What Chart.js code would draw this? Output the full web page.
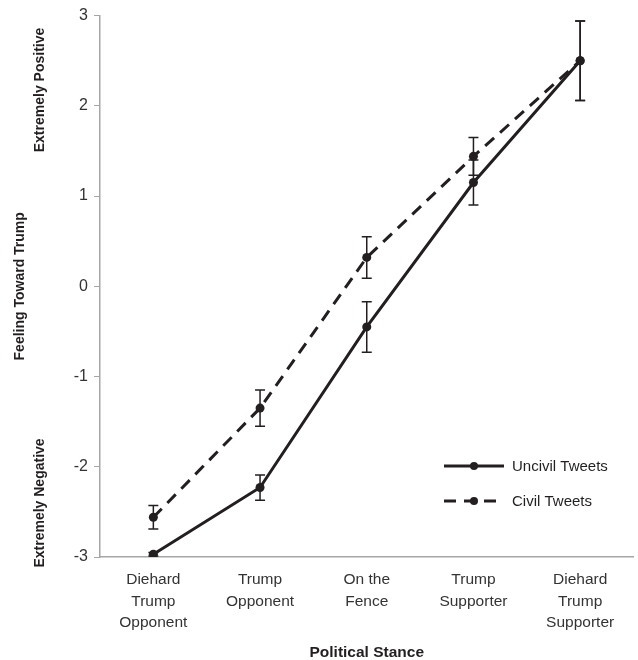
<!DOCTYPE html>
<html>
<head>
<title>Feeling Toward Trump</title>
<script src="https://cdn.jsdelivr.net/npm/chart.js@4.4.0/dist/chart.umd.min.js"></script>
<style>
  body { margin: 0; background: #fff; }
  .wrap { width: 638px; height: 660px; }
</style>
</head>
<body>
<div class="wrap"><canvas id="myChart" width="638" height="660"></canvas></div>
<script>
    // categories on the x axis (multi-line labels)
    var stances = [
        ['Diehard', 'Trump', 'Opponent'],
        ['Trump', 'Opponent'],
        ['On the', 'Fence'],
        ['Trump', 'Supporter'],
        ['Diehard', 'Trump', 'Supporter']
    ];
    var uncivil = [-2.97, -2.23, -0.45, 1.15, 2.50];
    var uncivilErr = [0.02, 0.14, 0.28, 0.25, 0.44];
    var civil = [-2.56, -1.35, 0.32, 1.44, 2.50];
    var civilErr = [0.13, 0.20, 0.23, 0.21, 0.44];
    var yTicks = [-3, -2, -1, 0, 1, 2, 3];

    var ink = '#231f20';
    var axisGray = '#a6a6a6';
    var font = '"Liberation Sans", Arial, sans-serif';

    // error bars for each dataset
    var errorBars = {
        id: 'errorBars',
        afterDatasetsDraw: function(chart) {
            var ctx = chart.ctx;
            var y = chart.scales.y;
            ctx.save();
            ctx.strokeStyle = ink;
            ctx.lineWidth = 1.5;
            chart.data.datasets.forEach(function(ds, di) {
                var meta = chart.getDatasetMeta(di);
                meta.data.forEach(function(pt, i) {
                    var v = ds.data[i], e = ds.errors[i];
                    var top = y.getPixelForValue(v + e);
                    var bot = y.getPixelForValue(v - e);
                    ctx.beginPath();
                    ctx.moveTo(pt.x, top); ctx.lineTo(pt.x, bot);
                    ctx.moveTo(pt.x - 5, top); ctx.lineTo(pt.x + 5, top);
                    ctx.moveTo(pt.x - 5, bot); ctx.lineTo(pt.x + 5, bot);
                    ctx.stroke();
                });
            });
            ctx.restore();
        }
    };

    // rotated side titles and the in-plot legend
    var sideText = {
        id: 'sideText',
        afterDraw: function(chart) {
            var ctx = chart.ctx;
            var area = chart.chartArea;
            ctx.save();
            ctx.fillStyle = ink;
            ctx.font = 'bold 14px ' + font;
            ctx.textAlign = 'center';
            ctx.textBaseline = 'middle';
            function vtext(t, x, y) {
                ctx.save();
                ctx.translate(x, y);
                ctx.rotate(-Math.PI / 2);
                ctx.fillText(t, 0, 0);
                ctx.restore();
            }
            vtext('Feeling Toward Trump', 20, (area.top + area.bottom) / 2);
            vtext('Extremely Positive', 40, 90);
            vtext('Extremely Negative', 40, 503);

            // legend
            ctx.font = '15px ' + font;
            ctx.textAlign = 'left';
            var lx = 444, lw = 60, rows = [466, 501];
            chart.data.datasets.forEach(function(ds, i) {
                var ly = rows[i];
                ctx.strokeStyle = ink;
                ctx.lineWidth = 3;
                ctx.setLineDash(ds.borderDash || []);
                ctx.beginPath();
                ctx.moveTo(lx, ly); ctx.lineTo(lx + lw, ly);
                ctx.stroke();
                ctx.setLineDash([]);
                ctx.beginPath();
                ctx.arc(lx + lw / 2, ly, 4, 0, Math.PI * 2);
                ctx.fill();
                ctx.fillText(ds.label, lx + lw + 8, ly + 1);
            });
            ctx.restore();
        }
    };

    var ctx = document.getElementById('myChart').getContext('2d');
    var myLineChart = new Chart(ctx, {
        type: 'line',
        data: {
            labels: stances,
            datasets: [
                {
                    label: 'Uncivil Tweets',
                    data: uncivil,
                    errors: uncivilErr,
                    borderColor: ink,
                    backgroundColor: ink,
                    borderWidth: 3,
                    pointRadius: 4.5,
                    pointBackgroundColor: ink,
                    pointBorderWidth: 0,
                    tension: 0
                },
                {
                    label: 'Civil Tweets',
                    data: civil,
                    errors: civilErr,
                    borderColor: ink,
                    backgroundColor: ink,
                    borderWidth: 3,
                    borderDash: [12, 8],
                    pointRadius: 4.5,
                    pointBackgroundColor: ink,
                    pointBorderWidth: 0,
                    tension: 0
                }
            ]
        },
        options: {
            responsive: false,
            animation: false,
            layout: { padding: { top: 8, right: 0, left: 0, bottom: 0 } },
            plugins: {
                legend: { display: false },
                tooltip: { enabled: false }
            },
            scales: {
                x: {
                    offset: true,
                    afterFit: function(scale) { scale.height = 103; },
                    grid: { display: false, drawTicks: false },
                    border: { display: true, color: axisGray, width: 1.5 },
                    ticks: {
                        color: '#333',
                        font: { family: font, size: 15.5, lineHeight: 1.39 },
                        maxRotation: 0,
                        padding: 12
                    },
                    title: {
                        display: true,
                        text: 'Political Stance',
                        color: ink,
                        font: { family: font, size: 15.5, weight: 'bold', lineHeight: 1 },
                        padding: { top: 0, bottom: 0 }
                    }
                },
                y: {
                    min: yTicks[0],
                    max: yTicks[yTicks.length - 1],
                    afterFit: function(scale) { scale.width = 100; },
                    afterBuildTicks: function(scale) {
                        scale.ticks = yTicks.map(function(v) { return { value: v }; });
                    },
                    grid: {
                        drawOnChartArea: false,
                        drawTicks: true,
                        tickLength: 6,
                        color: axisGray
                    },
                    border: { display: true, color: axisGray, width: 1.5 },
                    ticks: {
                        color: '#333',
                        font: { family: font, size: 16 },
                        padding: 6
                    }
                }
            }
        },
        plugins: [errorBars, sideText]
    });
</script>
</body>
</html>
